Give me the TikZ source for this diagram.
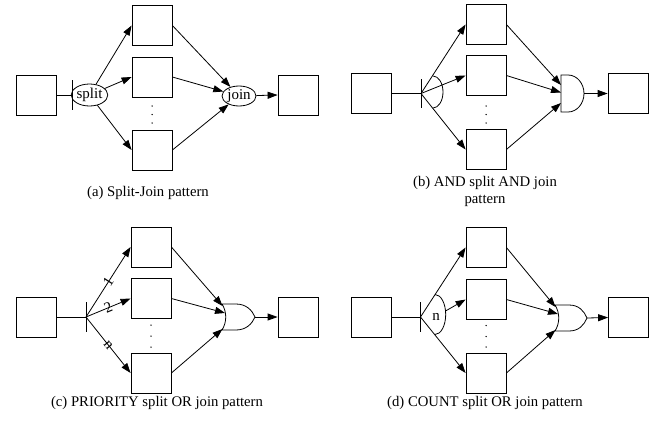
\documentclass[tikz,border=0pt]{standalone}
\usepackage{fontspec}
\setmainfont{Liberation Serif}
\usetikzlibrary{arrows.meta,shapes.geometric}
\tikzset{
  blk/.style={draw, line width=0.8pt, minimum size=40pt, inner sep=0pt},
  wire/.style={line width=0.8pt},
  flow/.style={line width=0.8pt, -{Triangle[length=10pt,width=7pt]}},
  bubble/.style={draw, ellipse, line width=0.8pt, inner sep=0pt, font=\fontsize{15}{18}\selectfont},
  caption/.style={font=\fontsize{14.7}{17}\selectfont, align=center, inner sep=0pt},
  prio/.style={sloped, font=\fontsize{15}{17}\selectfont, inner sep=0pt},
  dot/.style={radius=0.75pt},
}
\begin{document}
\begin{tikzpicture}[x=1pt, y=-1pt]
\useasboundingbox (0,0) rectangle (655,423);

% ---------- (a) split / join ----------
\node[blk] (aL) at (36,95) {};
\coordinate (aS) at (72,95);
\draw[wire] (aL.east) -- (aS);
\draw[wire] ([yshift=15pt]aS) -- ([yshift=-15pt]aS);
\node[bubble, minimum width=35pt, minimum height=22pt] (aSplit) at (89.5,95) {split};
\node[blk] (aT) at (152,25.5) {};
\node[blk] (aM) at (152,77) {};
\node[blk] (aB) at (152,150) {};
\foreach \y in {106,114.5,123} \fill (152,\y) circle[dot];
\node[bubble, minimum width=34pt, minimum height=20pt] (aJoin) at (239,96) {join};
\node[blk] (aR) at (298,95) {};
\draw[flow] (aSplit) -- (aT.west);
\draw[flow] (aSplit) -- (aM.west);
\draw[flow] (aSplit) -- (aB.west);
\draw[flow] (aT.east) -- (aJoin);
\draw[flow] (aM.east) -- (aJoin);
\draw[flow] (aB.east) -- (aJoin);
\draw[flow] (aJoin) -- (aR.west);
\node[caption] (aCap) at (148,193) {(a) Split-Join pattern};

% ---------- (b) AND split / AND join ----------
\node[blk] (bL) at (371.5,93.5) {};
\coordinate (bS) at (421,93.5);
\draw[wire] (bL.east) -- (bS);
\draw[wire] ([yshift=14.5pt]bS) -- ([yshift=-14.5pt]bS);
\draw[wire] (433,108) arc[start angle=90, end angle=-90, x radius=10, y radius=16];
\node[blk] (bT) at (486,24.5) {};
\node[blk] (bM) at (486,75.5) {};
\node[blk] (bB) at (486,149.5) {};
\foreach \y in {106,114.5,123} \fill (486,\y) circle[dot];
% AND gate
\draw[wire] (561,75) -- (568,75) arc[start angle=-90, end angle=90, x radius=16, y radius=18.5] -- (561,112) -- cycle;
\coordinate (bIn1) at (561,85);
\coordinate (bIn2) at (561,92.5);
\coordinate (bIn3) at (561,103);
\coordinate (bOut) at (584,93.5);
\node[blk] (bR) at (628,93.5) {};
\draw[flow] (bS) -- (bT.west);
\draw[flow] (bS) -- (bM.west);
\draw[flow] (bS) -- (bB.west);
\draw[flow] (bT.east) -- (bIn1);
\draw[flow] (bM.east) -- (bIn2);
\draw[flow] (bB.east) -- (bIn3);
\draw[flow] (bOut) -- (bR.west);
\node[caption] (bCap) at (485,191.5) {(b) AND split AND join\\pattern};

% ---------- (c) PRIORITY split / OR join ----------
\node[blk] (cL) at (36.5,317) {};
\coordinate (cS) at (86,317);
\draw[wire] (cL.east) -- (cS);
\draw[wire] ([yshift=15pt]cS) -- ([yshift=-15pt]cS);
\node[blk] (cT) at (151,247) {};
\node[blk] (cM) at (151,298.5) {};
\node[blk] (cB) at (151,373) {};
\foreach \y in {325,336,347} \fill (151,\y) circle[dot];
% OR gate
\draw[wire] (222,304) -- (236,304) .. controls (246,304) and (252,310) .. (255,317)
  .. controls (252,324) and (246,330) .. (236,330) -- (222,330)
  .. controls (227,322) and (227,312) .. (222,304) -- cycle;
\coordinate (cIn1) at (222.5,306);
\coordinate (cIn2) at (225,313);
\coordinate (cIn3) at (222.5,329);
\coordinate (cOut) at (255,317);
\node[blk] (cR) at (298,317) {};
\draw[flow] (cS) -- node[prio] {1} (cT.west);
\draw[flow] (cS) -- node[prio] {2} (cM.west);
\draw[flow] (cS) -- node[prio] {n} (cB.west);
\draw[flow] (cT.east) -- (cIn1);
\draw[flow] (cM.east) -- (cIn2);
\draw[flow] (cB.east) -- (cIn3);
\draw[flow] (cOut) -- (cR.west);
\node[caption] (cCap) at (157,403) {(c) PRIORITY split OR join pattern};

% ---------- (d) COUNT split / OR join ----------
\node[blk] (dL) at (371.5,317) {};
\coordinate (dS) at (420.5,317);
\draw[wire] (dL.east) -- (dS);
\draw[wire] ([yshift=15pt]dS) -- ([yshift=-15pt]dS);
\draw[wire] (435,334.5) arc[start angle=90, end angle=-90, x radius=10.7, y radius=20];
\node[font=\fontsize{15}{18}\selectfont, inner sep=0pt] (dN) at (436,317) {n};
\coordinate (dNe) at (445.5,311);
\node[blk] (dT) at (486,247.5) {};
\node[blk] (dM) at (486,299.5) {};
\node[blk] (dB) at (486,373) {};
\foreach \y in {325.5,336.5,347} \fill (486,\y) circle[dot];
% OR gate
\draw[wire] (555,305) -- (569,305) .. controls (579,305) and (584,311) .. (587,318)
  .. controls (584,325) and (579,331) .. (569,331) -- (555,331)
  .. controls (560,323) and (560,313) .. (555,305) -- cycle;
\coordinate (dIn1) at (555.5,307);
\coordinate (dIn2) at (558,314);
\coordinate (dIn3) at (555.5,330);
\coordinate (dOut) at (587,318);
\node[blk] (dR) at (628.5,317.5) {};
\draw[flow] (dS) -- (dT.west);
\draw[flow] (dNe) -- (dM.west);
\draw[flow] (dS) -- (dB.west);
\draw[flow] (dT.east) -- (dIn1);
\draw[flow] (dM.east) -- (dIn2);
\draw[flow] (dB.east) -- (dIn3);
\draw[flow] (dOut) -- (dR.west);
\node[caption] (dCap) at (485,403) {(d) COUNT split OR join pattern};
\end{tikzpicture}
\end{document}
